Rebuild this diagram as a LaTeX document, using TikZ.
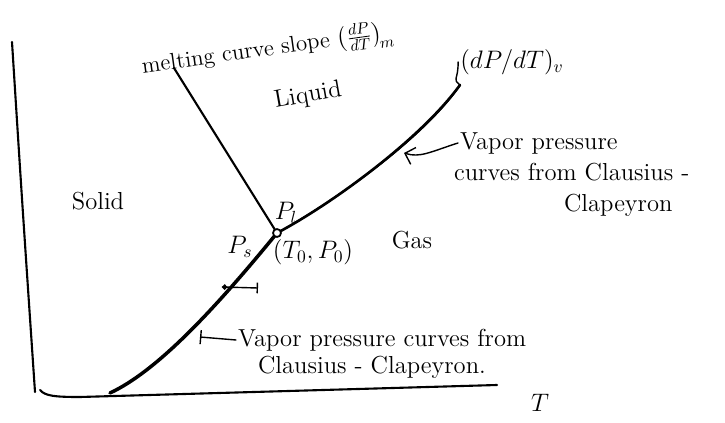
\documentclass[tikz,border=0pt]{standalone}
\usetikzlibrary{positioning, calc, arrows.meta}
\usepackage{amsmath}

\begin{document}
\begin{tikzpicture}[x=0.02cm, y=-0.02cm, line cap=round, line join=round,
  axisline/.style={line width=1.2pt},
  phaseline/.style={line width=1.5pt},
  pointer/.style={line width=0.8pt},
  lbl/.style={font=\fontsize{14}{16}\selectfont, inner sep=1pt}]

  \useasboundingbox (0,0) rectangle (725,423);

  % ===== axes =====
  \draw[axisline] (12,42) .. controls (22,200) .. (35,392);
  \draw[axisline] (40,390) .. controls (45,396) and (55,397) .. (80,397) -- (497,385);

  % ===== key points =====
  \coordinate (triple) at (277,233);
  \coordinate (sublow) at (110,393);
  \coordinate (melttop) at (174,68);
  \coordinate (vaptop) at (460,85);

  % sublimation curve
  \draw[phaseline, line width=2pt] (sublow) .. controls (155,372) and (210,315) .. (triple);
  % melting curve
  \draw[phaseline, line width=1.2pt] (melttop) -- (triple);
  % vaporization curve (double stroke)
  \draw[phaseline] (triple) .. controls (330,205) and (420,140) .. (vaptop);
  \draw[line width=0.9pt] (triple) .. controls (337,200) and (426,136) .. (vaptop);

  % triple point
  \draw[line width=1pt, fill=white] (triple) circle (4);

  % small tick on the sublimation curve
  \draw[pointer, {Circle[length=3pt]}-{Bar[width=6pt]}] (222,287) -- (258,288);

  % ===== region labels =====
  \node[lbl] (solid) at (98,201) {Solid};
  \node[lbl, rotate=10] (liquid) at (308,96) {Liquid};
  \node[lbl] (gas) at (412,240) {Gas};
  \node[lbl] (temp) at (540,403) {$T$};

  % ===== triple point labels =====
  \node[lbl] (pl) at (286,213) {$P_l$};
  \node[lbl] (ps) at (240,247) {$P_s$};
  \node[lbl] (t0p0) at (313,252) {$(T_0,P_0)$};

  % ===== slope labels =====
  \node[lbl, rotate=8, inner sep=0pt, font=\fontsize{13}{15}\selectfont] (meltlbl) at (268,50)
    {melting curve slope $\left(\frac{dP}{dT}\right)_{\!m}$};
  \node[lbl] (vaplbl) at (512,62) {$(dP/dT)_v$};
  \draw[pointer] (vaptop) .. controls (452,78) and (458,82) .. (vaplbl.west);

  % ===== upper note =====
  \node[lbl, anchor=west] (upper1) at (458,143) {Vapor pressure};
  \node[lbl, anchor=west] (upper2) at (452,172) {curves from Clausius -};
  \node[lbl, anchor=west] (upper3) at (562,205) {Clapeyron};
  \draw[pointer, -{Straight Barb[length=5pt]}] (upper1.west) .. controls (430,152) and (420,158) .. (404,153);

  % ===== lower note =====
  \node[lbl, anchor=west] (lower1) at (236,340) {Vapor pressure curves from};
  \node[lbl, anchor=west] (lower2) at (256,367) {Clausius - Clapeyron.};
  \draw[pointer, -{Bar[width=8pt]}] (lower1.west) -- (200,337);
\end{tikzpicture}
\end{document}
